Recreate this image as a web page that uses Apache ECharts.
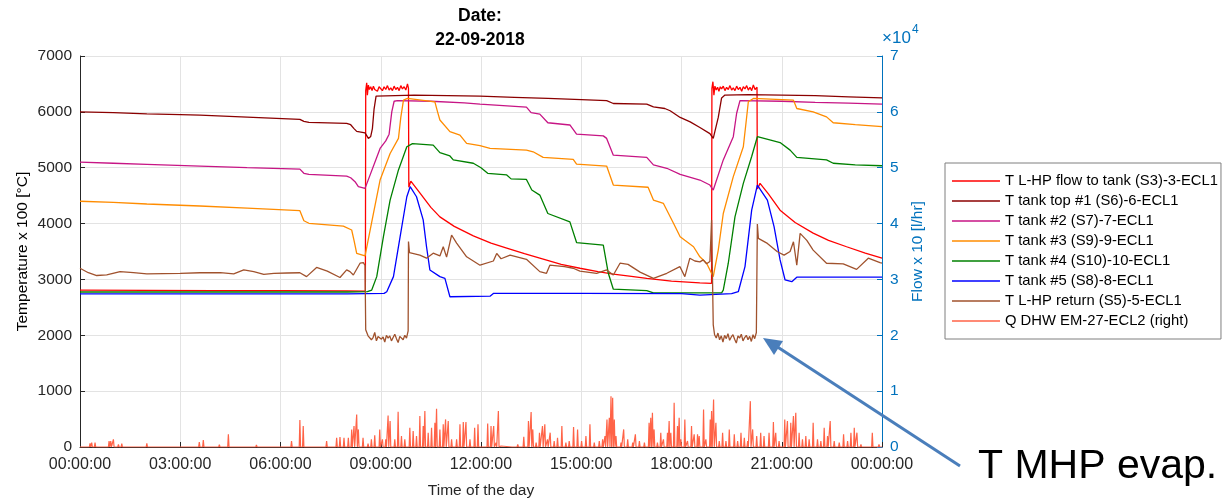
<!DOCTYPE html>
<html><head><meta charset="utf-8">
<script src="https://cdn.jsdelivr.net/npm/echarts@6/dist/echarts.min.js"></script>
<style>html,body{margin:0;padding:0;background:#fff}#c{width:1226px;height:500px}</style>
</head><body><div id="c"></div>
<script>
// ---- tick labels / categories ----
const xTicksHours = [0, 3, 6, 9, 12, 15, 18, 21, 24];
const seriesNames = [
  'T L-HP flow to tank (S3)-3-ECL1',
  'T tank top #1 (S6)-6-ECL1',
  'T tank #2 (S7)-7-ECL1',
  'T tank #3 (S9)-9-ECL1',
  'T tank #4 (S10)-10-ECL1',
  'T tank #5 (S8)-8-ECL1',
  'T L-HP return (S5)-5-ECL1',
  'Q DHW EM-27-ECL2 (right)'
];
// ---- series values: [hour of day, value] ----
const tFlowToTank = [[0,2810],[2,2805],[4,2800],[6,2800],[8,2795],[8.54,2790],[8.55,6380],[8.58,6520],[8.6,6300],[8.63,6480],[8.66,6400],[8.7,6450],[8.74,6380],[8.78,6460],[8.82,6400],[8.86,6430],[8.9,6370],[8.95,6450],[9.0,6420],[9.05,6380],[9.1,6450],[9.15,6400],[9.2,6470],[9.25,6390],[9.3,6430],[9.35,6380],[9.4,6460],[9.45,6400],[9.5,6440],[9.55,6380],[9.6,6470],[9.65,6410],[9.7,6450],[9.75,6390],[9.8,6500],[9.83,6420],[9.84,4650],[9.9,4760],[10.17,4550],[10.5,4290],[10.77,4120],[11.2,3950],[11.77,3780],[12.3,3650],[12.77,3560],[13.3,3460],[13.76,3380],[14.4,3270],[14.96,3200],[15.5,3140],[15.96,3095],[16.5,3055],[16.96,3020],[17.7,2970],[18.55,2940],[18.9,2930],[18.91,6420],[18.94,6540],[18.97,6300],[19.0,6460],[19.04,6390],[19.08,6440],[19.12,6370],[19.16,6450],[19.2,6410],[19.25,6460],[19.3,6380],[19.35,6440],[19.4,6400],[19.45,6470],[19.5,6390],[19.55,6430],[19.6,6380],[19.65,6460],[19.7,6400],[19.75,6440],[19.8,6370],[19.85,6450],[19.9,6410],[19.95,6470],[20.0,6390],[20.05,6440],[20.1,6380],[20.15,6480],[20.2,6400],[20.26,6440],[20.27,4620],[20.35,4720],[20.6,4530],[20.95,4240],[21.4,4020],[21.94,3830],[22.4,3700],[22.94,3585],[23.5,3470],[24,3380]];
const tTankTop1 = [[0,6000],[1,5985],[2,5965],[3,5950],[3.59,5940],[5,5905],[6.58,5865],[6.7,5830],[6.85,5810],[7.98,5795],[8.1,5770],[8.2,5700],[8.28,5650],[8.53,5625],[8.63,5525],[8.7,5560],[8.75,5700],[8.8,6050],[8.86,6280],[8.9,6300],[10,6300],[11,6290],[11.97,6280],[13,6260],[14,6240],[15,6220],[15.76,6200],[15.96,6150],[16.96,6140],[17.16,6090],[17.5,6060],[17.66,6020],[17.96,5900],[18.26,5820],[18.55,5720],[18.85,5610],[18.95,5525],[19.0,5560],[19.1,5900],[19.2,6250],[19.3,6300],[20,6310],[21,6300],[22,6290],[23,6270],[24,6250]];
const tTank2 = [[0,5100],[1,5080],[2,5060],[3.59,5030],[5,5000],[6.58,4975],[6.7,4900],[6.85,4880],[7.98,4850],[8.1,4820],[8.23,4750],[8.33,4660],[8.53,4630],[8.55,4650],[8.98,5345],[9.15,5480],[9.25,5600],[9.33,6000],[9.4,6190],[9.5,6200],[10.5,6190],[11.5,6160],[11.97,6140],[13.36,6085],[13.5,5985],[13.76,5960],[14.0,5805],[14.66,5765],[14.86,5600],[15.66,5570],[15.76,5525],[15.96,5225],[16.96,5185],[17.16,5050],[17.56,4990],[17.96,4880],[18.55,4780],[18.85,4690],[18.95,4600],[19.25,5140],[19.55,5555],[19.65,5975],[19.75,6200],[21,6190],[22,6170],[23,6155],[24,6140]];
const tTank3 = [[0,4400],[1,4380],[2,4350],[3.59,4315],[5,4275],[6.58,4230],[6.7,4050],[6.85,4005],[7.88,3955],[8.13,3885],[8.2,3700],[8.28,3465],[8.53,3420],[8.57,3435],[8.78,4180],[8.98,4780],[9.28,5255],[9.53,5525],[9.6,5900],[9.68,6210],[9.8,6240],[10.62,6180],[10.7,6000],[10.77,5855],[11.07,5645],[11.37,5585],[11.57,5435],[11.97,5395],[12.27,5345],[13.36,5315],[13.56,5285],[13.86,5185],[14.76,5150],[14.86,5065],[15.76,5030],[15.96,4690],[17.0,4650],[17.16,4420],[17.46,4360],[17.76,4005],[17.96,3765],[18.1,3700],[18.36,3585],[18.55,3405],[18.75,3290],[18.95,3050],[19.1,3525],[19.25,4180],[19.55,4840],[19.85,5375],[19.93,5800],[20.0,6180],[20.15,6240],[21.35,6210],[21.45,6060],[21.94,6000],[22.34,5910],[22.54,5805],[23.2,5770],[24,5735]];
const tTank4 = [[0,2775],[4,2775],[8,2775],[8.6,2780],[8.73,2810],[8.88,3050],[9.08,3765],[9.28,4420],[9.53,4960],[9.78,5375],[9.95,5430],[10.57,5405],[10.77,5270],[11.07,5210],[11.17,5140],[11.77,5080],[12.0,5000],[12.2,4900],[12.77,4870],[12.9,4800],[13.36,4790],[13.52,4600],[13.76,4510],[14.0,4180],[14.66,4030],[14.86,3660],[15.66,3615],[15.81,3110],[15.96,2825],[16.96,2800],[17.16,2760],[19.2,2760],[19.25,2810],[19.4,3290],[19.6,4120],[19.85,4720],[20.1,5200],[20.27,5555],[20.67,5495],[20.95,5450],[21.25,5315],[21.45,5185],[22.34,5140],[22.54,5080],[23.2,5050],[24,5035]];
const tTank5 = [[0,2740],[4,2740],[8,2740],[9.1,2750],[9.18,2780],[9.38,3050],[9.58,3765],[9.78,4480],[9.88,4660],[10.07,4480],[10.27,4065],[10.37,3585],[10.47,3170],[10.77,3050],[10.92,3020],[11.07,2690],[12.27,2700],[12.37,2750],[15,2750],[18,2745],[18.55,2720],[19.5,2745],[19.7,2780],[19.9,3230],[20.1,4240],[20.27,4690],[20.57,4420],[20.77,3945],[20.95,3350],[21.1,2990],[21.3,2960],[21.45,3040],[24,3040]];
const tReturn = [[0,3200],[0.25,3120],[0.5,3070],[0.8,3080],[1.2,3140],[1.6,3120],[2.0,3100],[2.5,3105],[3.0,3110],[3.59,3120],[4.2,3120],[4.6,3100],[4.9,3170],[5.2,3140],[5.5,3090],[5.8,3110],[6.2,3115],[6.58,3120],[6.78,3050],[7.08,3215],[7.4,3150],[7.78,3035],[7.98,3170],[8.08,3140],[8.18,3080],[8.38,3290],[8.48,3300],[8.53,3250],[8.55,2100],[8.57,2080],[8.62,1990],[8.67,2020],[8.72,1920],[8.77,1960],[8.82,2050],[8.87,1900],[8.92,1980],[8.97,2010],[9.02,1930],[9.07,1970],[9.12,1880],[9.17,2000],[9.22,1950],[9.27,1990],[9.32,1900],[9.37,1960],[9.42,2020],[9.47,1940],[9.52,1870],[9.57,1980],[9.62,1960],[9.67,1920],[9.72,2000],[9.77,1950],[9.82,2080],[9.83,3680],[9.86,3480],[10.17,3435],[10.37,3380],[10.57,3470],[10.77,3420],[10.87,3585],[10.97,3400],[11.12,3795],[11.27,3650],[11.57,3405],[11.97,3255],[12.37,3330],[12.47,3465],[12.6,3370],[12.87,3435],[13.36,3360],[13.76,3140],[13.96,3110],[14.06,3255],[14.5,3230],[14.76,3200],[14.96,3150],[15.46,3110],[15.76,3170],[15.96,3080],[16.16,3290],[16.4,3270],[16.76,3130],[17.16,3020],[17.56,3110],[17.95,3230],[18.1,3050],[18.25,3380],[18.4,3330],[18.55,3315],[18.65,3350],[18.75,3280],[18.85,3320],[18.9,4065],[18.95,2185],[18.99,2010],[19.04,1950],[19.09,2040],[19.14,1920],[19.19,1990],[19.24,1880],[19.29,2000],[19.34,1940],[19.39,2030],[19.44,1910],[19.49,1970],[19.54,2010],[19.59,1930],[19.64,1860],[19.69,1990],[19.74,1950],[19.79,2020],[19.84,1900],[19.89,1960],[19.94,2000],[19.99,1920],[20.04,1980],[20.09,1890],[20.14,2010],[20.19,1940],[20.24,2050],[20.27,3990],[20.3,3735],[20.57,3645],[20.87,3495],[21.07,3435],[21.25,3500],[21.35,3675],[21.45,3255],[21.55,3825],[21.75,3700],[21.94,3525],[22.34,3290],[22.84,3280],[23.24,3180],[23.59,3380],[23.94,3300],[24,3290]];
const qDhwSpikes = [[0.3,650],[0.35,770],[0.45,770],[0.87,1070],[0.92,1070],[1.0,1370],[1.15,480],[1.25,600],[2.0,650],[2.17,180],[3.57,890],[3.69,1250],[4.17,420],[4.44,2260],[4.84,180],[5.28,360],[5.38,180],[6.33,1070],[6.58,4820],[6.68,3750],[7.38,1070],[7.68,1670],[7.78,1790],[7.9,1670],[8.03,1670],[8.13,3150],[8.2,3750],[8.28,5830],[8.33,3150],[8.47,1670],[8.62,600],[8.72,1370],[8.82,2080],[8.97,3150],[9.05,1370],[9.15,1370],[9.22,5650],[9.28,4640],[9.42,1370],[9.52,6300],[9.62,1960],[9.72,1370],[9.87,3450],[9.97,2860],[10.07,1960],[10.17,5530],[10.27,3750],[10.32,6430],[10.42,2560],[10.52,3450],[10.62,4340],[10.67,6840],[10.77,3150],[10.87,4050],[10.94,4940],[11.02,4640],[11.12,1370],[11.27,1370],[11.37,4050],[11.47,4460],[11.55,4460],[11.67,1370],[11.81,3450],[11.91,4050],[12.2,4220],[12.3,3750],[12.38,3750],[12.45,770],[12.52,6430],[12.6,180],[12.95,300],[13.1,480],[13.28,1840],[13.42,4640],[13.5,6250],[13.55,3150],[13.65,770],[13.75,2560],[13.84,3750],[13.91,4050],[13.99,1370],[14.07,2560],[14.19,1070],[14.29,1670],[14.42,3750],[14.54,770],[14.64,1070],[14.77,3570],[14.89,3150],[15.01,1070],[15.14,1960],[15.26,4050],[15.39,770],[15.54,1070],[15.64,1370],[15.71,1960],[15.77,4940],[15.84,5240],[15.89,9100],[15.94,8810],[15.99,4940],[16.04,1960],[16.19,770],[16.27,3150],[16.39,1370],[16.54,770],[16.62,2260],[16.74,1070],[16.89,770],[17.03,4340],[17.08,5240],[17.13,6130],[17.18,3150],[17.28,770],[17.38,2560],[17.46,1370],[17.58,2560],[17.63,4640],[17.68,2560],[17.78,7910],[17.88,3750],[17.93,5240],[17.98,1370],[18.1,4940],[18.18,1070],[18.3,3750],[18.38,2260],[18.48,2260],[18.53,1960],[18.66,6720],[18.73,1370],[18.86,4940],[18.9,6430],[18.96,8510],[19.03,4340],[19.13,1070],[19.23,2560],[19.33,1070],[19.43,3150],[19.58,2260],[19.68,1070],[19.78,2560],[19.88,1670],[19.98,1070],[20.06,8210],[20.13,3150],[20.25,1960],[20.37,2560],[20.47,1960],[20.62,2560],[20.75,4460],[20.82,2560],[20.92,1070],[21.09,4940],[21.17,4640],[21.27,4340],[21.35,5530],[21.42,6130],[21.52,2560],[21.62,1370],[21.72,1960],[21.82,1370],[21.94,4340],[22.07,1370],[22.17,1070],[22.27,3450],[22.37,1960],[22.45,4640],[22.57,1070],[22.72,770],[22.85,2260],[22.97,1070],[23.07,2560],[23.17,3450],[23.25,2560],[23.37,480],[23.71,2560],[23.91,480]];
const qDhwData = [[0,0]];
for (const [t, v] of qDhwSpikes) { qDhwData.push([t - 0.02, 0], [t, v], [t + 0.02, 0]); }
qDhwData.push([24, 0]);

const colors = ['#ff0000','#8b0000','#c71585','#ff8c00','#008000','#0000ff','#a0522d','#ff6347'];
const tempData = [tFlowToTank, tTankTop1, tTank2, tTank3, tTank4, tTank5, tReturn];

function hhmmss(h){ const hh = (h % 24); return (hh < 10 ? '0' : '') + hh + ':00:00'; }

const chart = echarts.init(document.getElementById('c'), null, {renderer:'canvas'});
const txt = '#262626', blueAx = '#0072bd', font = '"Liberation Sans", Arial, sans-serif';

const series = tempData.map((d, i) => ({
  name: seriesNames[i], type: 'line', yAxisIndex: 0, data: d, showSymbol: false, symbol: 'none',
  lineStyle: {color: colors[i], width: 1.3}, itemStyle: {color: colors[i]}, z: 3 + i
}));
series.push({
  name: seriesNames[7], type: 'line', yAxisIndex: 1, data: qDhwData, showSymbol: false, symbol: 'none',
  lineStyle: {color: colors[7], width: 1.2}, itemStyle: {color: colors[7]}, z: 2
});

chart.setOption({
  animation: false,
  backgroundColor: '#fff',
  textStyle: {fontFamily: font},
  grid: {left: 80, right: 344, top: 56, bottom: 53, containLabel: false, outerBoundsMode: 'none'},
  legend: {
    orient: 'vertical', left: 945, top: 163, data: seriesNames,
    icon: 'rect', itemWidth: 48, itemHeight: 1.5, itemGap: 0,
    padding: [8, 3, 8, 7], borderColor: '#7f7f7f', borderWidth: 1, backgroundColor: '#fff',
    textStyle: {color: '#000', fontSize: 14.8, lineHeight: 20, fontFamily: font},
    selectedMode: false
  },
  xAxis: {
    type: 'value', min: 0, max: 24, interval: 3,
    name: 'Time of the day', nameLocation: 'middle', nameGap: 36,
    nameTextStyle: {color: txt, fontSize: 15.5, fontFamily: font},
    axisLine: {show: true, lineStyle: {color: '#262626', width: 1}},
    axisTick: {show: true, inside: true, length: 5, lineStyle: {color: '#262626'}},
    axisLabel: {color: txt, fontSize: 16, margin: 10, fontFamily: font,
      formatter: v => hhmmss(v)},
    splitLine: {show: true, lineStyle: {color: '#e3e3e3', width: 1}}
  },
  yAxis: [{
    type: 'value', min: 0, max: 7000, interval: 1000, position: 'left',
    name: 'Temperature x 100 [°C]', nameLocation: 'middle', nameGap: 49, nameRotate: 90, nameMoveOverlap: false,
    nameTextStyle: {color: '#000', fontSize: 15.5, fontFamily: font},
    axisLine: {show: true, lineStyle: {color: '#262626', width: 1}},
    axisTick: {show: true, inside: true, length: 5, lineStyle: {color: '#262626'}},
    axisLabel: {color: txt, fontSize: 15.5, margin: 8, fontFamily: font, formatter: v => String(v)},
    splitLine: {show: true, lineStyle: {color: '#e3e3e3', width: 1}}
  }, {
    type: 'value', min: 0, max: 70000, interval: 10000, position: 'right',
    name: 'Flow x 10 [l/hr]', nameLocation: 'middle', nameGap: 27, nameRotate: 90,
    nameTextStyle: {color: blueAx, fontSize: 15.5, fontFamily: font},
    axisLine: {show: true, lineStyle: {color: blueAx, width: 1}},
    axisTick: {show: true, inside: true, length: 5, lineStyle: {color: blueAx}},
    axisLabel: {color: blueAx, fontSize: 15.5, margin: 8, fontFamily: font, formatter: v => String(v / 10000)},
    splitLine: {show: false}
  }],
  graphic: [
    {type: 'text', z: 100, style: {text: 'Date:', x: 480, y: 16, align: 'center', verticalAlign: 'middle', textAlign: 'center', textVerticalAlign: 'middle', font: 'bold 17.5px ' + font, fill: '#000'}},
    {type: 'text', z: 100, style: {text: '22-09-2018', x: 480, y: 40, align: 'center', verticalAlign: 'middle', textAlign: 'center', textVerticalAlign: 'middle', font: 'bold 17.5px ' + font, fill: '#000'}},
    {type: 'text', z: 100, style: {text: '×10', x: 882, y: 38, verticalAlign: 'middle', textVerticalAlign: 'middle', font: '17px ' + font, fill: blueAx}},
    {type: 'text', z: 100, style: {text: '4', x: 912, y: 30, verticalAlign: 'middle', textVerticalAlign: 'middle', font: '12px ' + font, fill: blueAx}},
    {type: 'line', z: 100, shape: {x1: 960, y1: 466, x2: 776, y2: 346}, style: {stroke: '#4a7ebb', lineWidth: 3}},
    {type: 'polygon', z: 100, shape: {points: [[763, 338], [783, 341], [774, 355]]}, style: {fill: '#4a7ebb'}},
    {type: 'text', z: 100, style: {text: 'T MHP evap.', x: 978, y: 467, verticalAlign: 'middle', textVerticalAlign: 'middle', font: '41px ' + font, fill: '#000'}}
  ],
  series: series
});
</script></body></html>
